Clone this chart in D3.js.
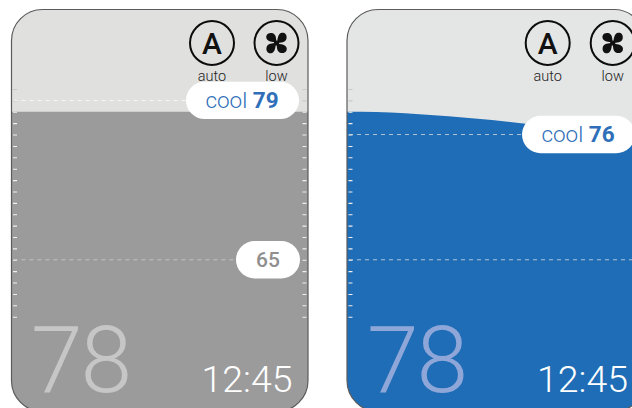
<!DOCTYPE html>
<html><head><meta charset="utf-8">
<script src="https://cdn.jsdelivr.net/npm/d3@7"></script>
<style>html,body{margin:0;padding:0;background:#fff}svg{display:block}text{font-family:Roboto,sans-serif}</style>
</head><body><svg id="c" width="632" height="408"></svg>
<script>
const tempTicks = d3.range(60, 81);
const panelNames = ["off", "cooling"];
const setpoints = [79, 76];
const lowerLimits = [65, 65];
const currentTemp = [78, 78];
const clockLabels = ["12:45", "12:45"];
const modeLabels = ["auto", "auto"];
const fanLabels = ["low", "low"];
const fillColors = ["#9b9b9b", "#1f6db6"];
const topColors = ["#e0e0df", "#e4e5e5"];
const bigColors = ["#c6c6c6", "#8fa7d8"];
const curveProgress = [0, 0.1, 0.2, 0.3, 0.4, 0.5, 0.6, 0.7, 0.8, 0.9, 1];
const coolingCurve = [[78,78,78,78,78,78,78,78,78,78,78],
                      [78,77.97,77.87,77.7,77.5,77.27,77.0,76.75,76.45,76.2,76.0]];
const pillWidths = [[113,64],[113,64]];

const y = d3.scaleLinear().domain([60, 80]).range([316.7, 89]);
const svg = d3.select("#c");
const panels = [{x0:11.5,x1:308},{x0:347,x1:645}];
const defs = svg.append("defs");

panels.forEach((p,i)=>{
  const w = p.x1-p.x0, H = 402, top = 9.5;
  defs.append("clipPath").attr("id","clip"+i).append("rect")
    .attr("x",p.x0).attr("y",top).attr("width",w).attr("height",H).attr("rx",31);
  const g = svg.append("g").attr("class",panelNames[i]);
  const inner = g.append("g").attr("clip-path",`url(#clip${i})`);
  inner.append("rect").attr("x",p.x0).attr("y",top).attr("width",w).attr("height",H).attr("fill",topColors[i]);

  const x = d3.scaleLinear().domain([0,1]).range([p.x0,p.x1-(i===0?0:8)]);
  const area = d3.area().x((d,k)=>x(curveProgress[k])).y0(415).y1(d=>y(d)).curve(d3.curveMonotoneX);
  inner.append("path").datum(coolingCurve[i]).attr("d",area).attr("fill",fillColors[i]);

  // tick marks
  const sides = [{x:p.x0+1.5,len:4},{x:i===0?p.x1-5.5:null,len:4}];
  sides.filter(s=>s.x!==null).forEach(s=>{
    const axis = d3.axisRight(y).tickValues(tempTicks).tickSize(s.len).tickFormat("");
    const a = inner.append("g").attr("transform",`translate(${s.x},0)`).call(axis);
    a.select(".domain").remove();
    a.selectAll(".tick line").attr("stroke",d=>d>=78.5?"#c9c9c9":"#f0f0f0").attr("stroke-width",1.1);
  });

  // dashed lines
  const spX = i===0 ? 186 : 522;
  const lowX = i===0 ? 236 : p.x1;
  const lines = [[setpoints[i],spX],[lowerLimits[i],lowX]];
  inner.selectAll(".dash").data(lines).join("line").attr("class","dash")
    .attr("x1",p.x0+2).attr("x2",d=>d[1]).attr("y1",d=>y(d[0])).attr("y2",d=>y(d[0]))
    .attr("stroke",(d,k)=>k===0&&i===0?"#ffffff":"#d5dbe3").attr("stroke-width",1)
    .attr("stroke-dasharray","4 4").attr("opacity",(d,k)=>k===1&&i===0?0.6:0.8);

  // big reading and clock
  g.append("text").attr("x",i===0?31:367).attr("y",392).attr("font-size",93).attr("font-weight",300)
    .attr("letter-spacing",-2).attr("fill",bigColors[i]).text(currentTemp[i]);
  g.append("text").attr("x",i===0?292.5:628).attr("y",391.5).attr("text-anchor","end").attr("font-size",37.5).attr("font-weight",300)
    .attr("fill","#fff").text(clockLabels[i]);

  // outline
  g.append("rect").attr("x",p.x0).attr("y",top).attr("width",w).attr("height",H).attr("rx",31)
    .attr("fill","none").attr("stroke","#5c5c5c").attr("stroke-width",1.2);

  // mode and fan icons
  const aX = i===0?212:547.7, fX = i===0?276.5:612.7, iy = 43;
  [aX,fX].forEach(cx=>g.append("circle").attr("cx",cx).attr("cy",iy).attr("r",22).attr("fill","none").attr("stroke","#0c0c0c").attr("stroke-width",2));
  g.append("text").attr("x",aX).attr("y",iy+10.5).attr("text-anchor","middle").attr("font-size",30).attr("font-weight",500).attr("fill","#111").text("A");
  const fan = g.append("g").attr("transform",`translate(${fX},${iy})`);
  [0,90,180,270].forEach(r=>fan.append("path")
    .attr("d","M0,-0.5 C-0.5,-4 0,-9 -4.5,-10 C-9,-10.8 -11,-7.5 -10,-4.5 C-9,-1.5 -4,-1 0,-0.5Z")
    .attr("fill","#111").attr("transform",`rotate(${r})`));
  fan.append("circle").attr("r",2.6).attr("fill","#111");
  g.append("text").attr("x",aX).attr("y",i===0?81:80.5).attr("text-anchor","middle").attr("font-size",14.5).attr("font-weight",300).attr("fill","#222").text(modeLabels[i]);
  g.append("text").attr("x",fX).attr("y",i===0?81:80.5).attr("text-anchor","middle").attr("font-size",14.5).attr("font-weight",300).attr("fill","#222").text(fanLabels[i]);

  // setpoint pill
  const spY = y(setpoints[i]);
  const pw = pillWidths[i][0];
  const sx = i===0?186:522;
  g.append("rect").attr("x",sx).attr("y",spY-18.7).attr("width",pw).attr("height",37.4).attr("rx",18.7).attr("fill","#fff");
  const t = g.append("text").attr("x",sx+pw/2-0.5).attr("y",spY+7.5).attr("text-anchor","middle").attr("font-size",22.5).attr("fill","#2f6fb9");
  t.append("tspan").attr("font-weight",300).text("cool ");
  t.append("tspan").attr("font-weight",700).text(setpoints[i]);

  // lower limit pill, only on the idle panel
  if(i===0){
    const ly = y(lowerLimits[i]);
    g.append("rect").attr("x",236).attr("y",ly-18.7).attr("width",pillWidths[i][1]).attr("height",37.4).attr("rx",18.7).attr("fill","#fff");
    g.append("text").attr("x",268).attr("y",ly+7).attr("text-anchor","middle").attr("font-size",21).attr("font-weight",500).attr("fill","#8f8f8f").text(lowerLimits[i]);
  }
});
</script></body></html>
